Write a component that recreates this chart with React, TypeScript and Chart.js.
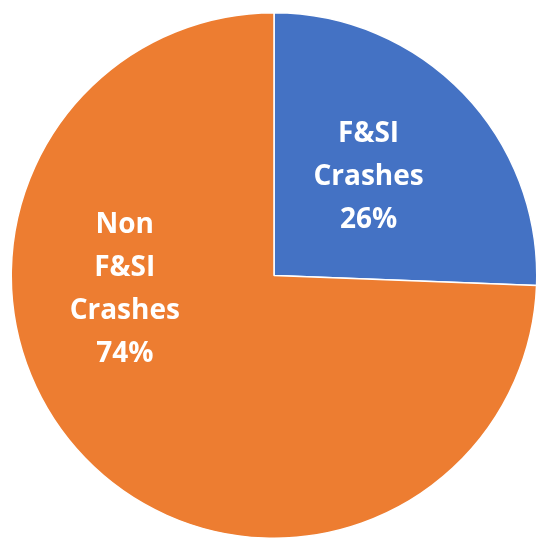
import React, { useEffect, useRef } from "react";
import { Chart, registerables } from "chart.js";

Chart.register(...registerables);

const categories = ["F&SI Crashes", "Non F&SI Crashes"];
const labelLines = [["F&SI", "Crashes"], ["Non", "F&SI", "Crashes"]];
const values = [25.6, 74.4];
const colors = ["#4472C4", "#ED7D31"];

const labelPlugin = {
  id: "pieLabels",
  afterDatasetsDraw(chart: any) {
    const ctx = chart.ctx;
    const meta = chart.getDatasetMeta(0);
    const total = values.reduce((a, b) => a + b, 0);
    // label offsets relative to centre, as fraction of radius
    const offsets = [
      [0.36, -0.375],
      [-0.568, 0.055],
    ];
    ctx.save();
    ctx.fillStyle = "#ffffff";
    ctx.font = "bold 28px 'Open Sans', sans-serif";
    ctx.textAlign = "center";
    ctx.textBaseline = "middle";
    meta.data.forEach((arc: any, i: number) => {
      const r = arc.outerRadius;
      const cx = arc.x + offsets[i][0] * r;
      const cy = arc.y + offsets[i][1] * r;
      const lines = [...labelLines[i], Math.round((values[i] / total) * 100) + "%"];
      const lh = 43;
      const start = cy - ((lines.length - 1) * lh) / 2;
      lines.forEach((t, k) => ctx.fillText(t, cx, start + k * lh));
    });
    ctx.restore();
  },
};

export default function App() {
  const ref = useRef<HTMLCanvasElement>(null);
  useEffect(() => {
    if (!ref.current) return;
    const chart = new Chart(ref.current, {
      type: "pie",
      data: {
        labels: categories,
        datasets: [
          {
            data: values,
            backgroundColor: colors,
            borderColor: "#ffffff",
            borderWidth: 1.5,
          },
        ],
      },
      options: {
        responsive: false,
        animation: false,
        layout: { padding: { left: 10, top: 12, right: 0, bottom: 0 } },
        plugins: {
          legend: { display: false },
          tooltip: { enabled: false },
        },
      },
      plugins: [labelPlugin],
    });
    return () => chart.destroy();
  }, []);
  return (
    <div style={{ position: "absolute", left: 0, top: 0, width: 538, height: 539, background: "#fff" }}>
      <canvas ref={ref} width={538} height={539} style={{ display: "block" }} />
    </div>
  );
}
